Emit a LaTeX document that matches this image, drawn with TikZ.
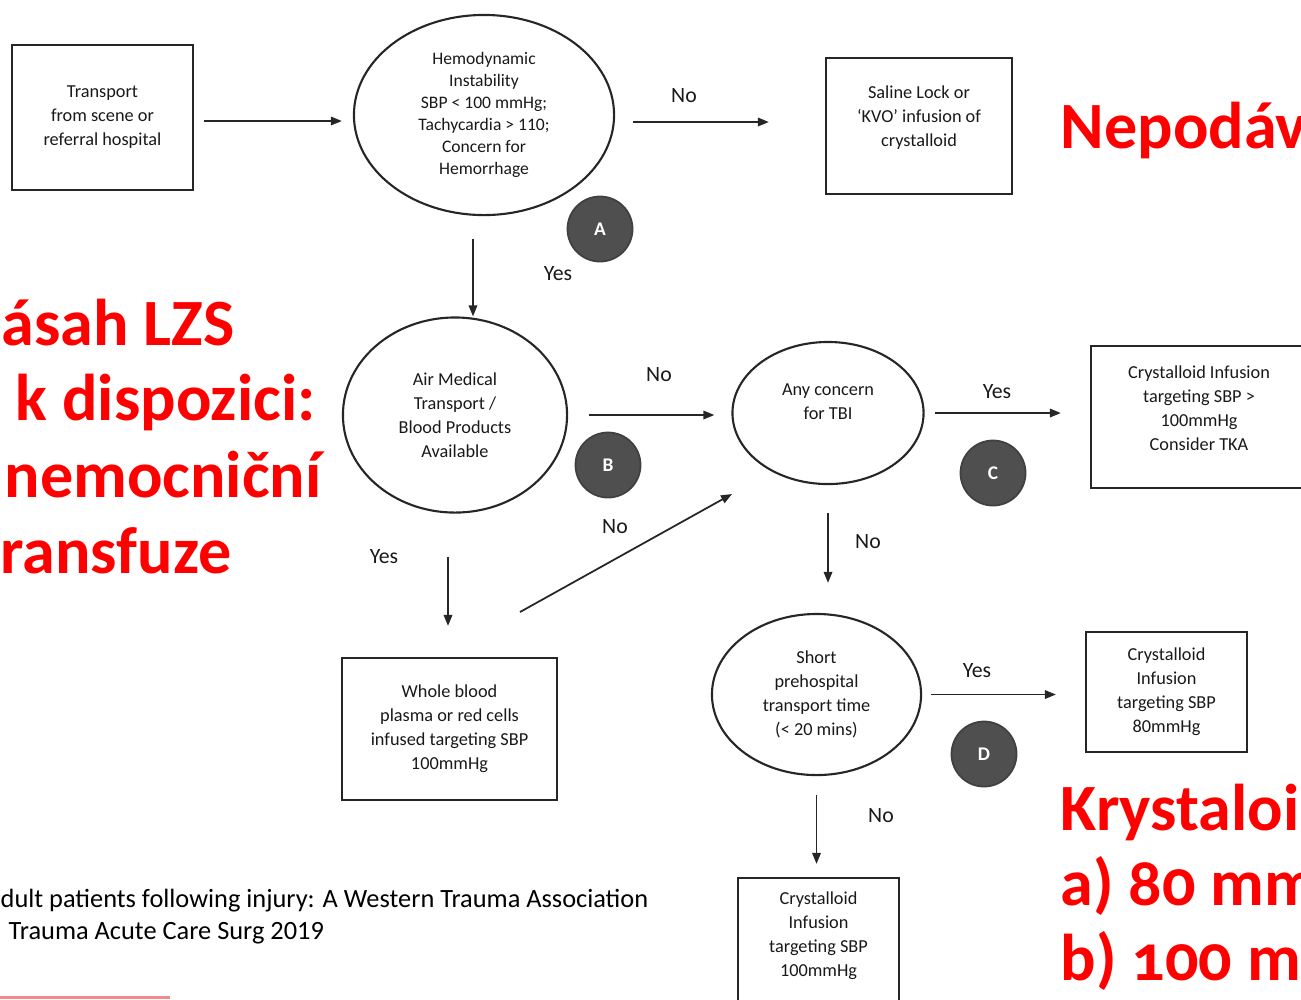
\documentclass[tikz,border=0pt]{standalone}
\usepackage{fontspec}
\setmainfont{Carlito}
\newfontfamily\slidefont[Numbers=OldStyle]{Carlito}
\usetikzlibrary{arrows.meta,shapes.geometric}
\definecolor{badgegray}{HTML}{4F4F4F}
\definecolor{slidered}{HTML}{FF0000}
\definecolor{rulepink}{HTML}{F28C8C}
\newcommand\flowfont{\fontsize{5.2}{6.8}\selectfont}

\begin{document}
\begin{tikzpicture}[x=0.01cm,y=-0.01cm,
    txt/.style={align=center,inner sep=0pt,text=black!90,font=\flowfont},
    box/.style={txt,draw=black!85,line width=0.6pt,rectangle},
    oval/.style={txt,draw=black!85,line width=0.6pt,ellipse},
    flow/.style={black!85,line width=0.5pt,-{Triangle[length=1.1mm,width=0.85mm]}},
    badge/.style={circle,fill=badgegray,draw=black!75,line width=0.5pt,minimum size=0.65cm,inner sep=0pt,text=white,font=\fontsize{5.5}{6}\selectfont\bfseries},
    answer/.style={inner sep=0pt,text=black!90,font=\fontsize{6.2}{7}\selectfont},
    slide/.style={inner sep=0pt,anchor=base west,text=slidered,font=\slidefont\bfseries\fontsize{18.8}{21}\selectfont},
    cite/.style={inner sep=0pt,anchor=base west,text=black,font=\fontsize{7.5}{9}\selectfont}]
    \useasboundingbox (0,0) rectangle (1301,999);
    \clip (0,0) rectangle (1301,999);

    % flowchart
    \node[box,minimum width=1.81cm,minimum height=1.45cm] (transport) at (102.5,117.5) {Transport\\from scene or\\referral hospital};
    \node[oval,minimum width=2.60cm,minimum height=2.00cm,font=\fontsize{5.0}{6.3}\selectfont] (hemo) at (484,115) {Hemodynamic\\Instability\\SBP < 100 mmHg;\\Tachycardia > 110;\\Concern for\\Hemorrhage};
    \node[box,minimum width=1.86cm,minimum height=1.36cm] (saline) at (919,126) {};
    \node[txt] (salinetext) at (919,118) {Saline Lock or\\‘KVO’ infusion of\\crystalloid};
    \node[oval,minimum width=2.24cm,minimum height=1.95cm] (air) at (455,415) {Air Medical\\Transport /\\Blood Products\\Available};
    \node[oval,minimum width=1.91cm,minimum height=1.42cm] (tbi) at (828,413) {};
    \node[txt] (tbitext) at (828,402) {Any concern\\for TBI};
    \node[box,minimum width=2.25cm,minimum height=1.42cm] (tka) at (1203.5,417) {};
    \node[txt] (tkatext) at (1199,408) {Crystalloid Infusion\\targeting SBP >\\100mmHg\\Consider TKA};
    \node[box,minimum width=2.15cm,minimum height=1.42cm] (whole) at (449.5,729) {Whole blood\\plasma or red cells\\infused targeting SBP\\100mmHg};
    \node[oval,minimum width=2.09cm,minimum height=1.61cm] (short) at (816.5,694.5) {Short\\prehospital\\transport time\\(< 20 mins)};
    \node[box,minimum width=1.61cm,minimum height=1.20cm] (crys80) at (1166.5,692) {Crystalloid\\Infusion\\targeting SBP\\80mmHg};
    \node[box,minimum width=1.61cm,minimum height=1.40cm] (crys100) at (818.5,948) {};
    \node[txt] (crys100text) at (818.5,936) {Crystalloid\\Infusion\\targeting SBP\\100mmHg};

    \node[badge] (A) at (600,229) {A};
    \node[badge] (B) at (608,465) {B};
    \node[badge] (C) at (993,473) {C};
    \node[badge] (D) at (984,754) {D};

    \draw[flow,shorten <=1mm,shorten >=1.1mm] ([yshift=-0.35mm]transport.east) -- ([yshift=-0.35mm]transport.east -| hemo.west);
    \draw[flow,shorten <=1.8mm,shorten >=5.6mm] ([yshift=-0.7mm]hemo.east) -- ([yshift=-0.7mm]hemo.east -| saline.west);
    \draw[flow,shorten <=2.3mm] ([xshift=-1.1mm]hemo.south) -- ([xshift=-1.1mm]hemo.south |- air.north);
    \draw[flow,shorten <=2.1mm,shorten >=1.7mm] (air.east) -- (air.east -| tbi.west);
    \draw[flow,shorten <=4.3mm,shorten >=3.1mm] ([xshift=-0.7mm]air.south) -- ([xshift=-0.7mm]air.south |- whole.north);
    \coordinate (airno) at (520,612);
    \coordinate (tbino) at (732,494);
    \draw[flow] (airno) -- (tbino);
    \draw[flow,shorten <=1mm,shorten >=2.9mm] (tbi.east) -- (tbi.east -| tka.west);
    \draw[flow,shorten <=2.8mm,shorten >=3mm] (tbi.south) -- (tbi.south |- short.north);
    \draw[flow,shorten <=0.9mm,shorten >=2.9mm] (short.east) -- (short.east -| crys80.west);
    \draw[flow,shorten <=1.9mm,shorten >=1.3mm] (short.south) -- (short.south |- crys100.north);

    \node[answer] (no1) at (684,96) {No};
    \node[answer] (yes1) at (558,274) {Yes};
    \node[answer] (no2) at (659,375) {No};
    \node[answer] (yes2) at (997,392) {Yes};
    \node[answer] (yes3) at (384,557) {Yes};
    \node[answer] (no3) at (615,527) {No};
    \node[answer] (no4) at (868,542) {No};
    \node[answer] (yes4) at (977,671) {Yes};
    \node[answer] (no5) at (881,816) {No};

    % slide text
    \node[slide] (nepo) at (1060,148) {Nepodáv};
    \node[slide] (zasah) at (1,345) {ásah LZS};
    \node[slide] (dispo) at (15,420) {k dispozici:};
    \node[slide] (nemoc) at (4,497) {nemocniční};
    \node[slide] (transf) at (0,573) {ransfuze};
    \node[slide] (kryst) at (1060,830) {Krystaloi};
    \node[slide] (a80) at (1060,905) {a) 80 mm};
    \node[slide] (b100) at (1060,980) {b) 100 mm};

    \node[cite] (cite1) at (0,907) {dult patients following injury: A Western Trauma Association};
    \node[cite] (cite2) at (8,939) {Trauma Acute Care Surg 2019};
    \draw[rulepink,line width=0.6pt] (0,997.5) -- (170,997.5);
\end{tikzpicture}
\end{document}
